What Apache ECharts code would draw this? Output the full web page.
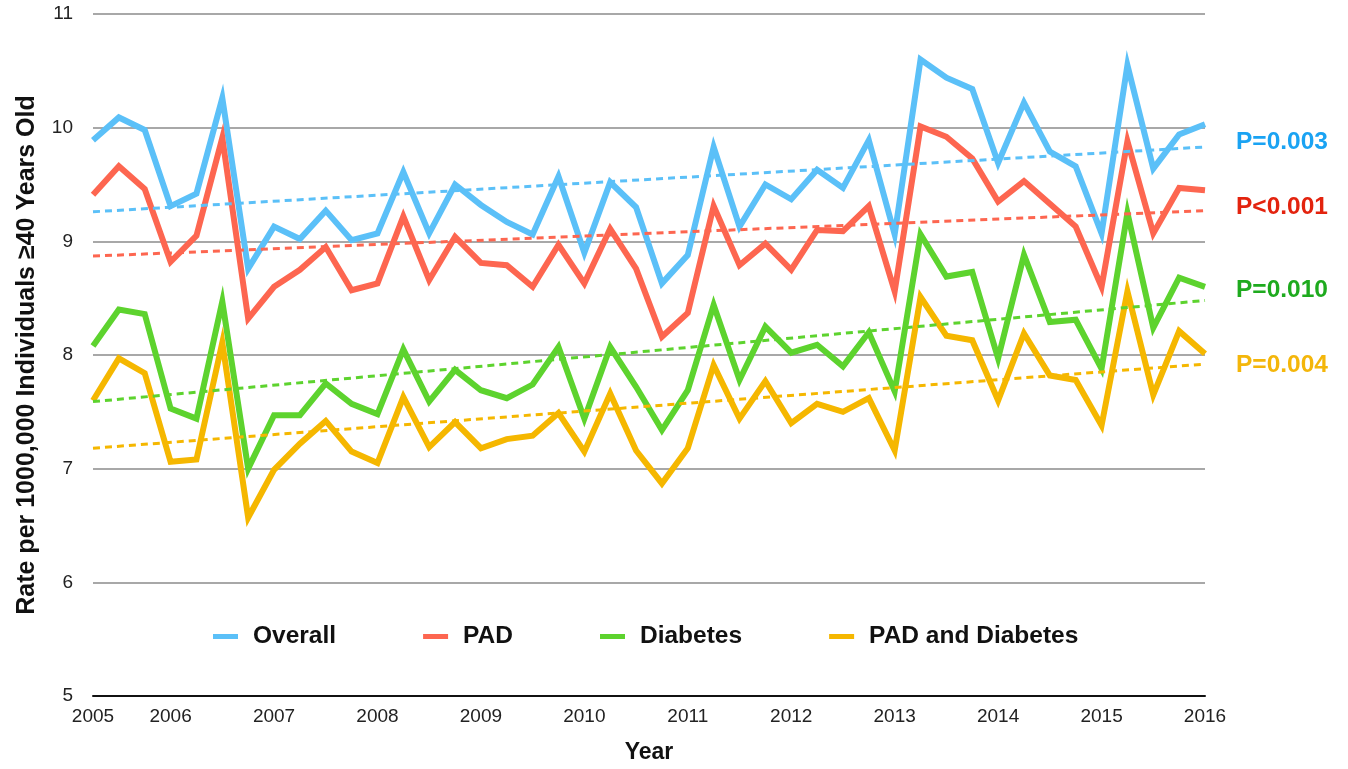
<!DOCTYPE html>
<html>
<head>
<meta charset="utf-8">
<title>Rate per 1000,000 Individuals</title>
<script src="https://cdn.jsdelivr.net/npm/echarts@6/dist/echarts.min.js"></script>
<style>
  html, body { margin: 0; padding: 0; background: #fff; }
  #main { width: 1348px; height: 769px; }
</style>
</head>
<body>
<div id="main"></div>
<script>
// quarterly points, 2005 Q1 .. 2015 Q4
var years = ['2005', '2006', '2007', '2008', '2009', '2010', '2011', '2012', '2013', '2014', '2015'];
var quarters = [];
years.forEach(function (y) {
    ['Q1', 'Q2', 'Q3', 'Q4'].forEach(function (q) { quarters.push(y + ' ' + q); });
});

// tick labels under the axis and the point they sit under
var yearLabels = ['2005', '2006', '2007', '2008', '2009', '2010', '2011', '2012', '2013', '2014', '2015', '2016'];
var yearLabelIdx = [0, 3, 7, 11, 15, 19, 23, 27, 31, 35, 39, 43];

var overall = [9.89, 10.09, 9.98, 9.31, 9.42, 10.26, 8.76, 9.13, 9.02, 9.27, 9.01, 9.07,
    9.61, 9.07, 9.50, 9.32, 9.17, 9.06, 9.57, 8.90, 9.52, 9.30, 8.63, 8.88,
    9.83, 9.13, 9.50, 9.37, 9.63, 9.47, 9.89, 9.06, 10.60, 10.44, 10.34, 9.69,
    10.22, 9.79, 9.66, 9.07, 10.55, 9.64, 9.94, 10.03];
var pad = [9.41, 9.66, 9.46, 8.82, 9.05, 9.91, 8.32, 8.60, 8.75, 8.95, 8.57, 8.63,
    9.22, 8.66, 9.04, 8.81, 8.79, 8.60, 8.97, 8.63, 9.11, 8.76, 8.16, 8.37,
    9.31, 8.79, 8.98, 8.75, 9.10, 9.09, 9.31, 8.56, 10.01, 9.92, 9.73, 9.35,
    9.53, 9.33, 9.13, 8.60, 9.88, 9.07, 9.47, 9.45];
var diabetes = [8.08, 8.40, 8.36, 7.53, 7.44, 8.47, 7.00, 7.47, 7.47, 7.75, 7.57, 7.48,
    8.05, 7.59, 7.87, 7.69, 7.62, 7.74, 8.07, 7.44, 8.07, 7.72, 7.34, 7.69,
    8.44, 7.78, 8.25, 8.02, 8.09, 7.90, 8.20, 7.68, 9.06, 8.69, 8.73, 7.97,
    8.88, 8.29, 8.31, 7.88, 9.25, 8.24, 8.68, 8.60];
var padDiabetes = [7.60, 7.97, 7.84, 7.06, 7.08, 8.11, 6.57, 6.99, 7.22, 7.42, 7.15, 7.05,
    7.63, 7.19, 7.41, 7.18, 7.26, 7.29, 7.49, 7.15, 7.66, 7.16, 6.87, 7.18,
    7.91, 7.44, 7.77, 7.40, 7.57, 7.50, 7.62, 7.16, 8.51, 8.17, 8.13, 7.60,
    8.19, 7.82, 7.78, 7.38, 8.56, 7.65, 8.21, 8.01];

// linear trend, start and end value
var overallTrend = [9.26, 9.83];
var padTrend = [8.87, 9.27];
var diabetesTrend = [7.59, 8.48];
var padDiabetesTrend = [7.18, 7.92];

var names = ['Overall', 'PAD', 'Diabetes', 'PAD and Diabetes'];
var lineColors = ['#5bc0f8', '#fd6650', '#5dd32e', '#f5b700'];
var pColors = ['#1aa3f3', '#e3230e', '#1eaa1e', '#f4b60a'];
var pTexts = ['P=0.003', 'P<0.001', 'P=0.010', 'P=0.004'];
var pOffsets = [-5, -3, -10, 1];

var font = '"Liberation Sans", Arial, Helvetica, sans-serif';

var myChart = echarts.init(document.getElementById('main'));

function trendData(t) {
    return [[quarters[0], t[0]], [quarters[quarters.length - 1], t[1]]];
}

var series = [];
[overall, pad, diabetes, padDiabetes].forEach(function (d, i) {
    series.push({
        name: names[i],
        type: 'line',
        data: d,
        showSymbol: false,
        symbol: 'none',
        z: 2,
        lineStyle: { color: lineColors[i], width: 6, join: 'miter' },
        itemStyle: { color: lineColors[i] }
    });
});
[overallTrend, padTrend, diabetesTrend, padDiabetesTrend].forEach(function (t, i) {
    series.push({
        name: names[i] + ' trend',
        type: 'line',
        data: trendData(t),
        showSymbol: false,
        symbol: 'none',
        z: 3,
        lineStyle: { color: lineColors[i], width: 3, type: [7, 5] },
        endLabel: {
            show: true,
            formatter: pTexts[i],
            distance: 31,
            offset: [0, pOffsets[i]],
            color: pColors[i],
            fontFamily: font,
            fontWeight: 'bold',
            fontSize: 24.5
        }
    });
});

var option = {
    animation: false,
    backgroundColor: '#fff',
    textStyle: { fontFamily: font },
    grid: { left: 93, right: 143, top: 14, bottom: 67, containLabel: false },
    legend: {
        data: names,
        left: 213,
        top: 624,
        padding: 0,
        icon: 'rect',
        itemWidth: 25,
        itemHeight: 5,
        itemGap: 87,
        textStyle: {
            fontFamily: font,
            fontWeight: 'bold',
            fontSize: 24.5,
            color: '#111',
            padding: [0, 0, 0, 10]
        }
    },
    xAxis: {
        type: 'category',
        data: quarters,
        boundaryGap: false,
        name: 'Year',
        nameLocation: 'middle',
        nameGap: 45,
        nameTextStyle: { fontFamily: font, fontWeight: 'bold', fontSize: 23, color: '#111' },
        axisLine: { lineStyle: { color: '#111', width: 2 } },
        axisTick: { show: false },
        splitLine: { show: false },
        axisLabel: {
            interval: 0,
            margin: 11,
            fontSize: 19,
            color: '#222',
            fontFamily: font,
            formatter: function (value, index) {
                var k = yearLabelIdx.indexOf(index);
                return k >= 0 ? yearLabels[k] : '';
            }
        }
    },
    yAxis: {
        type: 'value',
        min: 5,
        max: 11,
        interval: 1,
        name: 'Rate per 1000,000 Individuals \u226540 Years Old',
        nameLocation: 'middle',
        nameGap: 53,
        nameTextStyle: { fontFamily: font, fontWeight: 'bold', fontSize: 25, color: '#111' },
        axisLine: { show: false },
        axisTick: { show: false },
        axisLabel: { fontSize: 19, color: '#222', margin: 20, fontFamily: font },
        splitLine: { lineStyle: { color: '#a8a8a8', width: 2 } }
    },
    series: series
};

myChart.setOption(option);
</script>
</body>
</html>
